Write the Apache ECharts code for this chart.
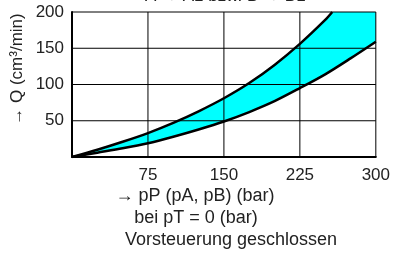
<!DOCTYPE html>
<html>
<head>
<meta charset="utf-8">
<script src="https://cdn.jsdelivr.net/npm/echarts@6/dist/echarts.min.js"></script>
<style>
  html, body { margin: 0; padding: 0; background: #fff; }
  #chart { width: 393px; height: 253px; }
</style>
</head>
<body>
<div id="chart"></div>
<script>
  // obere Kennlinie, Druck pP (bar) und Q (cm3/min), endet bei 200
  var upperP = [0, 25, 50, 75, 100, 125, 150, 175, 200, 225, 250, 257];
  var upperQ = [0, 10, 21, 33, 47, 63, 81, 102, 127, 156, 189, 200];
  // untere Kennlinie
  var lowerP = [0, 25, 50, 75, 100, 125, 150, 175, 200, 225, 250, 275, 300];
  var lowerQ = [0, 6, 12, 19, 28, 38, 49, 62, 77, 95, 114, 136, 159];
  var xTicks = [75, 150, 225, 300];
  var yTicks = [50, 100, 150, 200];

  var font = 'Liberation Sans';
  var txt = '#222';

  var lowerData = lowerP.map(function (p, i) { return [p, lowerQ[i]]; });
  var upperData = upperP.map(function (p, i) { return [p, upperQ[i]]; });

  var chart = echarts.init(document.getElementById('chart'));
  chart.setOption({
    animation: false,
    grid: { left: 72, right: 16, top: 12, bottom: 96 },
    xAxis: {
      type: 'value', min: 0, max: 300, interval: 75,
      axisLine: { lineStyle: { color: '#000', width: 2 } },
      axisTick: { show: false },
      splitLine: { show: false },
      axisLabel: {
        margin: 10, color: txt, fontFamily: font, fontSize: 17,
        formatter: function (v) { return xTicks.indexOf(v) >= 0 ? String(v) : ''; }
      }
    },
    yAxis: {
      type: 'value', min: 0, max: 200, interval: 50,
      axisLine: { show: true, lineStyle: { color: '#000', width: 2 } },
      axisTick: { show: false },
      splitLine: { show: false },
      axisLabel: {
        margin: 8, color: txt, fontFamily: font, fontSize: 17,
        formatter: function (v) { return yTicks.indexOf(v) >= 0 ? String(v) : ''; }
      }
    },
    series: [
      {
        // Band zwischen den Kurven (oben bei 200 abgeschnitten) und Gitter darueber
        type: 'custom', data: [0], silent: true,
        renderItem: function (params, api) {
          var pts = upperData.map(function (d) { return api.coord(d); });
          pts.push(api.coord([300, 200]));
          for (var i = lowerData.length - 1; i >= 0; i--) pts.push(api.coord(lowerData[i]));
          var children = [{ type: 'polygon', shape: { points: pts }, style: { fill: '#00ffff' } }];
          var lineStyle = { stroke: '#000', lineWidth: 1 };
          xTicks.forEach(function (v) {
            var a = api.coord([v, 0]), b = api.coord([v, 200]);
            children.push({ type: 'line', shape: { x1: a[0], y1: a[1], x2: b[0], y2: b[1] }, style: lineStyle });
          });
          yTicks.forEach(function (v) {
            var a = api.coord([0, v]), b = api.coord([300, v]);
            children.push({ type: 'line', shape: { x1: a[0], y1: a[1], x2: b[0], y2: b[1] }, style: lineStyle });
          });
          return { type: 'group', children: children };
        }
      },
      {
        type: 'line', data: lowerData, symbol: 'none', smooth: 0.3,
        lineStyle: { color: '#000', width: 2.5 }
      },
      {
        type: 'line', data: upperData, symbol: 'none', smooth: 0.3,
        lineStyle: { color: '#000', width: 2.5 }
      }
    ],
    graphic: [
      { type: 'text', left: 145, top: -12, style: { text: 'A \u2192 A1 bzw. B \u2192 B1', font: '17px ' + font, fill: txt } },
      { type: 'text', x: 17, y: 69, rotation: Math.PI / 2,
        style: { text: '\u2192 Q (cm\u00b3/min)', font: '17px ' + font, fill: txt, align: 'center', verticalAlign: 'middle' } },
      { type: 'text', x: 195, y: 196, style: { text: '\u2192 pP (pA, pB) (bar)', font: '18px ' + font, fill: txt, align: 'center', verticalAlign: 'middle' } },
      { type: 'text', x: 196, y: 218, style: { text: 'bei pT = 0 (bar)', font: '18px ' + font, fill: txt, align: 'center', verticalAlign: 'middle' } },
      { type: 'text', x: 231, y: 240, style: { text: 'Vorsteuerung geschlossen', font: '18px ' + font, fill: txt, align: 'center', verticalAlign: 'middle' } }
    ]
  });
</script>
</body>
</html>
